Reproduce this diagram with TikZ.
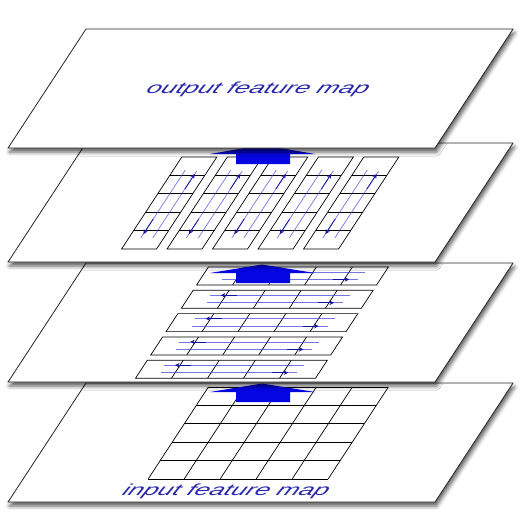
\documentclass[tikz,border=0pt]{standalone}
\usepackage{fontspec}
\newfontfamily\labfont{Liberation Sans}
\usetikzlibrary{shadows.blur,arrows.meta}
\definecolor{tblue}{RGB}{40,40,170}
\definecolor{ablue}{RGB}{5,5,225}
\definecolor{fblue}{RGB}{60,60,210}
\definecolor{dblue}{RGB}{20,20,160}
\begin{document}
\begin{tikzpicture}[x=1pt,y=-1pt,
  plane/.style={draw=black!85, line width=0.8pt, fill=white,
    blur shadow={shadow xshift=1.5pt, shadow yshift=-4pt, shadow blur radius=4pt, shadow opacity=65}},
  cell/.style={draw=black, line width=0.7pt},
  flow/.style={draw=fblue, opacity=0.7, line width=0.7pt},
  tipar/.style={draw=dblue, line width=0.8pt, -{Stealth[length=4.5pt,width=4.5pt]}},
  bigarrow/.style={fill=ablue, draw=none},
  lab/.style={text=tblue, font=\labfont\itshape\fontsize{16}{16}\selectfont, xscale=1.65, xslant=0.3, inner sep=0pt, anchor=base},
  local/.style={x={(1pt,0pt)}, y={(-0.655pt,-1pt)}}
]
\useasboundingbox (0,0) rectangle (524,532);

% ---------- plane 4: input feature map ----------
\begin{scope}[shift={(86pt,-383pt)}, local]
  \path[plane] (0,0) -- (427,0) -- (427,119) -- (0,119) -- cycle;
  \foreach \i in {0,...,5} \draw[cell] (125+36*\i,4) -- (125+36*\i,96);
  \foreach \j in {0,...,5} \draw[cell] (125,4+18.4*\j) -- (305,4+18.4*\j);
\end{scope}
\node[lab] (inlab) at (224,495) {input feature map};
\path[bigarrow] (210,392) -- (262,383.5) -- (315,392) -- (290,392) -- (290,402) -- (236,402) -- (236,392) -- cycle;

% ---------- plane 3: horizontal sweeps ----------
\begin{scope}[shift={(86pt,-263pt)}, local]
  \path[plane] (0,0) -- (427,0) -- (427,119) -- (0,119) -- cycle;
  \foreach \k in {0,...,4}{
    \pgfmathsetmacro{\vv}{4+23.3*\k}
    \draw[cell] (125,\vv) -- (305,\vv) -- (305,\vv+18) -- (125,\vv+18) -- cycle;
    \foreach \i in {1,...,4} \draw[cell] (125+36*\i,\vv) -- (125+36*\i,\vv+18);
    \draw[flow] (145,\vv+5) -- (285,\vv+5);
    \draw[flow] (147,\vv+12.5) -- (283,\vv+12.5);
    \draw[tipar] (172,\vv+5) -- (156,\vv+5);
    \draw[tipar] (258,\vv+12.5) -- (274,\vv+12.5);
  }
\end{scope}
\path[bigarrow] (210,273) -- (262,264.5) -- (315,273) -- (290,273) -- (290,283) -- (236,283) -- (236,273) -- cycle;

% ---------- plane 2: vertical sweeps ----------
\begin{scope}[shift={(86pt,-143pt)}, local]
  \path[plane] (0,0) -- (427,0) -- (427,119) -- (0,119) -- cycle;
  \foreach \k in {0,...,4}{
    \pgfmathsetmacro{\uu}{105+45.5*\k}
    \draw[cell] (\uu,14) -- (\uu+35,14) -- (\uu+35,106) -- (\uu,106) -- cycle;
    \foreach \j in {1,...,4} \draw[cell] (\uu,14+18.4*\j) -- (\uu+35,14+18.4*\j);
    \draw[flow] (\uu+12,27) -- (\uu+12,95);
    \draw[flow] (\uu+24,95) -- (\uu+24,28);
    \draw[tipar] (\uu+12,76) -- (\uu+12,91);
    \draw[tipar] (\uu+24,46) -- (\uu+24,31);
  }
\end{scope}
\path[bigarrow] (210,154) -- (262,145) -- (315,154) -- (290,154) -- (290,164) -- (236,164) -- (236,154) -- cycle;

% ---------- plane 1: output feature map ----------
\begin{scope}[shift={(86pt,-29pt)}, local]
  \path[plane] (0,0) -- (427,0) -- (427,119) -- (0,119) -- cycle;
\end{scope}
\node[lab] (outlab) at (256,94) {output feature map};
\end{tikzpicture}
\end{document}
